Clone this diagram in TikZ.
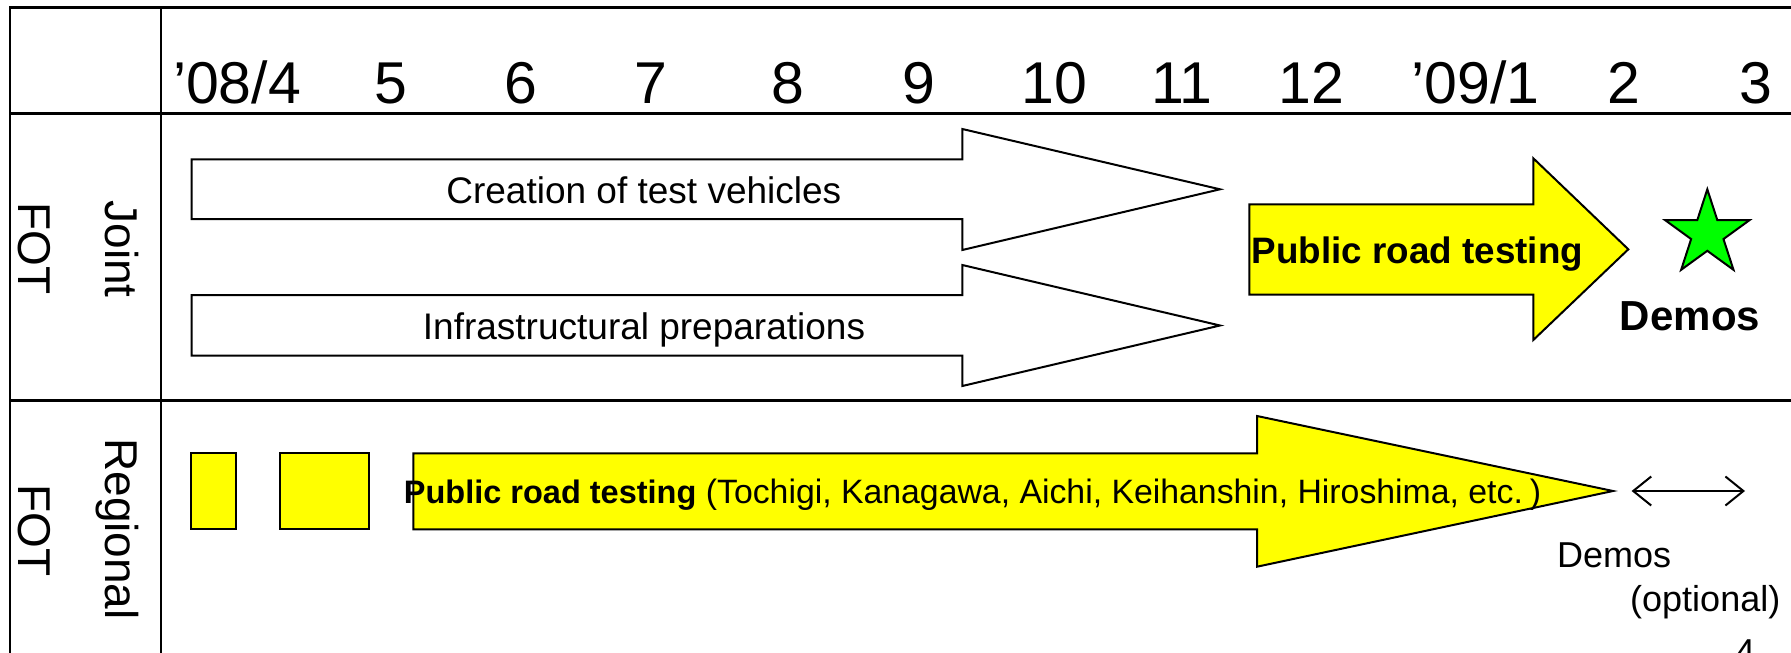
\documentclass[tikz,border=0pt]{standalone}
\usepackage{fontspec}
\setmainfont{Liberation Sans}
\usetikzlibrary{arrows.meta}
\definecolor{fotyellow}{HTML}{FFFF00}
\definecolor{fotgreen}{HTML}{00FF00}
\begin{document}
\begin{tikzpicture}[x=1pt,y=-1pt,
  gridline/.style={line width=2.4pt, black},
  shp/.style={draw=black, line width=2pt, line join=miter},
  month/.style={anchor=base, inner sep=0pt, font=\fontsize{59}{70}\selectfont},
  rowlabel/.style={rotate=-90, anchor=base, inner sep=0pt, font=\fontsize{46}{55}\selectfont},
  bartext/.style={inner sep=0pt, font=\fontsize{37}{44}\selectfont},
  smalltext/.style={inner sep=0pt, anchor=base west, font=\fontsize{36}{43}\selectfont}]
\useasboundingbox (0,0) rectangle (1791,653);
\clip (0,0) rectangle (1791,653);
\fill[white] (0,0) rectangle (1791,653);

% table grid
\draw[gridline] (1800,7.3) -- (10,7.3) -- (10,700);
\draw[gridline] (161,7.3) -- (161,700);
\draw[gridline] (10,113.3) -- (1800,113.3);
\draw[gridline] (10,400.5) -- (1800,400.5);

% months
\node[month] (m4)  at (237,103.5)  {’08/4};
\node[month] (m5)  at (390.5,103.5) {5};
\node[month] (m6)  at (520.5,103.5) {6};
\node[month] (m7)  at (651,103.5)  {7};
\node[month] (m8)  at (788,103.5)  {8};
\node[month] (m9)  at (919,103.5)  {9};
\node[month] (m10) at (1054.5,103.5) {10};
\node[month] (m11) at (1182,103.5) {11};
\node[month] (m12) at (1311.5,103.5) {12};
\node[month] (m1)  at (1475.5,103.5) {’09/1};
\node[month] (m2)  at (1624,103.5) {2};
\node[month] (m3)  at (1755.5,103.5) {3};

% row labels
\node[rowlabel] (joint) at (105,249.2) {Joint};
\node[rowlabel] (jfot)  at (18.5,248.5) {FOT};
\node[rowlabel] (regional) at (105,529) {Regional};
\node[rowlabel] (rfot)  at (18.5,530.8) {FOT};

% joint FOT arrows
\draw[shp, fill=white] (191.5,159.3) -- (962.3,159.3) -- (962.3,129) -- (1220,189.3)
  -- (962.3,250) -- (962.3,219) -- (191.5,219) -- cycle;
\node[bartext, anchor=base] (creation) at (643.8,203.3) {Creation of test vehicles};

\draw[shp, fill=white] (191.5,295) -- (962.3,295) -- (962.3,265) -- (1220,325.5)
  -- (962.3,386) -- (962.3,355.7) -- (191.5,355.7) -- cycle;
\node[bartext, anchor=base] (infra) at (644,339.3) {Infrastructural preparations};

\draw[shp, fill=fotyellow] (1249.3,204.3) -- (1533.3,204.3) -- (1533.3,158.3) -- (1628.3,249.3)
  -- (1533.3,340) -- (1533.3,294.5) -- (1249.3,294.5) -- cycle;
\node[inner sep=0pt, anchor=base west, font=\fontsize{36.8}{44}\selectfont\bfseries] (jpublic)
  at (1251.7,263.3) {Public road testing};

% star and demos
\draw[shp, fill=fotgreen] (1707.3,233.8) +(270:44.5) -- +(306:17) -- +(342:44.5) -- +(18:17)
  -- +(54:44.5) -- +(90:17) -- +(126:44.5) -- +(162:17) -- +(198:44.5) -- +(234:17) -- cycle;
\node[inner sep=0pt, anchor=base, font=\fontsize{42}{50}\selectfont\bfseries] (jdemos)
  at (1690,330) {Demos};

% regional FOT
\draw[shp, fill=fotyellow] (191.4,453.3) rectangle (236,529.3);
\draw[shp, fill=fotyellow] (279.8,453.3) rectangle (369.3,529.3);
\draw[shp, fill=fotyellow] (413.3,453.3) -- (1257,453.3) -- (1257,416) -- (1613,491)
  -- (1257,566.7) -- (1257,529.3) -- (413.3,529.3) -- cycle;
\node[inner sep=0pt, anchor=base west, font=\fontsize{33.8}{40}\selectfont] (rpublic)
  at (403.7,503.5) {{\fontsize{32.5}{39}\selectfont\bfseries Public road testing} (Tochigi, Kanagawa, Aichi, Keihanshin, Hiroshima, etc.\hspace{7pt})};

\coordinate (dl) at (1631.6,491);
\coordinate (dr) at (1745,491);
\draw[line width=2pt, {Straight Barb[length=18pt,width=29pt]}-{Straight Barb[length=18pt,width=29pt]}] (dl) -- (dr);

\node[smalltext] (rdemos) at (1557,567.3) {Demos};
\node[smalltext] (ropt) at (1630,611.7) {(optional)};
\node[smalltext] (pagenum) at (1735,664) {4};
\end{tikzpicture}
\end{document}
